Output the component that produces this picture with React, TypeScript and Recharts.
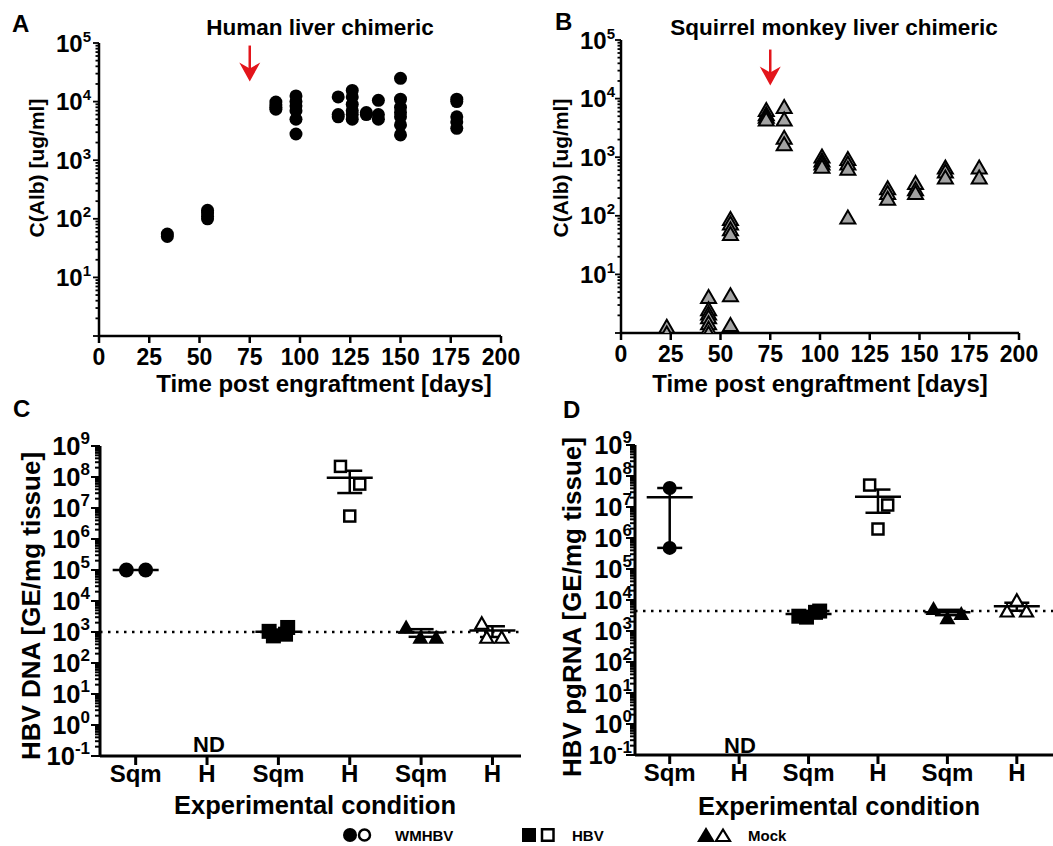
import React from 'react';
import { ScatterChart, Scatter, XAxis, YAxis, ReferenceLine, ErrorBar } from 'recharts';

const FONT = '"Liberation Sans", Arial, Helvetica, sans-serif';
const RED = '#e3151b';

// ---------- Panel A : human liver chimeric ----------
const humanDays = [34, 54, 88, 98, 119, 126, 133, 139, 150, 178];
const humanAlb: number[][] = [
  [55, 50],
  [140, 125, 110, 100],
  [9800, 8800, 8000, 7400],
  [12500, 10000, 8500, 7000, 5000, 2800],
  [12000, 6000, 5500],
  [15500, 12000, 9000, 7000, 6000, 5000],
  [6500, 6000],
  [10500, 6000, 5000],
  [25000, 11000, 8000, 6500, 5500, 4000, 2700],
  [11000, 10000, 5500, 4500, 3500],
];
const humanArrow = [{ x: 75, y: 22000 }];

// ---------- Panel B : squirrel monkey liver chimeric ----------
const monkeyDays = [23, 44, 55, 73, 82, 101, 114, 134, 148, 163, 180];
const monkeyAlb: number[][] = [
  [1.3, 1.0],
  [4.2, 2.6, 2.2, 1.9, 1.5, 1.2, 1.0],
  [90, 75, 60, 50, 4.5, 1.4],
  [6500, 5500, 5000, 4500],
  [7300, 4500, 2200, 1700],
  [1050, 900, 800, 700],
  [950, 800, 650, 95],
  [300, 250, 200],
  [370, 290, 250],
  [680, 580, 460],
  [680, 460],
];
const monkeyArrow = [{ x: 75, y: 16700 }];

const timeTicks = [0, 25, 50, 75, 100, 125, 150, 175, 200];

// ---------- Panels C / D ----------
const conditionLabels = ['Sqm', 'H', 'Sqm', 'H', 'Sqm', 'H'];

// C: HBV DNA [GE/mg tissue]
const dnaWmhbvSqm = [1e5, 1e5];
const dnaHbvSqm = [1050, 750, 1400, 850];
const dnaHbvH = [2.2e8, 5.9e7, 5.5e6];
const dnaMockSqm = [1500, 700, 700];
const dnaMockH = [1950, 690, 690];
const dnaCutoff = 1000;
const dnaWmhbvSqmJitter = [-0.13, 0.14];
const dnaHbvSqmJitter = [-0.13, -0.07, 0.13, 0.1];
const dnaHbvHJitter = [-0.13, 0.14, 0];
const dnaMockSqmJitter = [-0.21, -0.01, 0.21];
const dnaMockHJitter = [-0.15, -0.08, 0.13];

// D: HBV pgRNA [GE/mg tissue]
const rnaWmhbvSqm = [4.1e7, 4.8e5];
const rnaHbvSqm = [3000, 2800, 4000, 4400];
const rnaHbvH = [5.1e7, 1.16e7, 1.95e6];
const rnaMockSqm = [5500, 2800, 3800];
const rnaMockH = [4500, 10000, 4500];
const rnaCutoff = 4400;
const rnaWmhbvSqmJitter = [0, 0];
const rnaHbvSqmJitter = [-0.14, -0.03, 0.1, 0.16];
const rnaHbvHJitter = [-0.12, 0.14, 0];
const rnaMockSqmJitter = [-0.2, 0, 0.2];
const rnaMockHJitter = [-0.14, 0, 0.14];

// ---------- helpers ----------
const buildLogTicks = (minExp: number, maxExp: number) => {
  const t: number[] = [];
  for (let e = minExp; e < maxExp; e++) for (let m = 1; m < 10; m++) t.push(Number((m * Math.pow(10, e)).toPrecision(6)));
  t.push(Math.pow(10, maxExp));
  return t;
};
const albTicks = buildLogTicks(0, 5);
const hbvTicks = buildLogTicks(-1, 9);

const timeData = (days: number[], vals: number[][]) =>
  days.flatMap((d, i) => vals[i].map((v) => ({ x: d, y: v })));
const toPoints = (cat: number, jitter: number[], vals: number[]) =>
  vals.map((v, i) => ({ x: cat + jitter[i], y: v }));
const meanSem = (cat: number, vals: number[]) => {
  const n = vals.length;
  const mean = vals.reduce((a, b) => a + b, 0) / n;
  const sd = Math.sqrt(vals.reduce((a, b) => a + (b - mean) * (b - mean), 0) / (n - 1));
  return { x: cat, y: mean, err: sd / Math.sqrt(n) };
};

type TickOpts = { major: number; minor: number; gap: number; fs: number; sup: number; supDy: number; minLabel: number; sw: number };
const logTick = (o: TickOpts) => (props: any) => {
  const { x, y, payload } = props;
  const v = payload.value as number;
  const lg = Math.log10(v);
  const e = Math.round(lg);
  const isMajor = Math.abs(lg - e) < 1e-6;
  return (
    <g>
      <line x1={x} x2={x - (isMajor ? o.major : o.minor)} y1={y} y2={y} stroke="#000" strokeWidth={o.sw} />
      {isMajor && v >= o.minLabel && (
        <text x={x - o.gap} y={y + o.fs * 0.36} textAnchor="end" fontFamily={FONT} fontWeight={700} fontSize={o.fs} fill="#000">
          10
          <tspan dy={o.supDy} fontSize={o.sup}>
            {e}
          </tspan>
        </text>
      )}
    </g>
  );
};

const xTick = (len: number, dyText: number, fs: number, sw: number, fmt: (v: number) => string) => (props: any) => {
  const { x, y, payload } = props;
  return (
    <g>
      <line x1={x} x2={x} y1={y} y2={y + len} stroke="#000" strokeWidth={sw} />
      <text x={x} y={y + dyText} textAnchor="middle" fontFamily={FONT} fontWeight={700} fontSize={fs} fill="#000">
        {fmt(payload.value)}
      </text>
    </g>
  );
};

// ---------- marker shapes ----------
const dot = (r: number) => (p: any) => <circle cx={p.cx} cy={p.cy} r={r} fill="#000" />;
const square = (s: number, open: boolean) => (p: any) =>
  open ? (
    <rect x={p.cx - s / 2} y={p.cy - s / 2} width={s} height={s} fill="#fff" stroke="#000" strokeWidth={2.5} />
  ) : (
    <rect x={p.cx - s / 2} y={p.cy - s / 2} width={s} height={s} fill="#000" />
  );
const tri = (w: number, h: number, fill: string, sw: number) => (p: any) => (
  <polygon
    points={`${p.cx},${p.cy - h / 2} ${p.cx + w / 2},${p.cy + h / 2} ${p.cx - w / 2},${p.cy + h / 2}`}
    fill={fill}
    stroke="#000"
    strokeWidth={sw}
    strokeLinejoin="miter"
  />
);
const meanMark = (p: any) => <line x1={p.cx - 23} x2={p.cx + 23} y1={p.cy} y2={p.cy} stroke="#000" strokeWidth={2.5} />;
const arrowDown = (p: any) => {
  const { cx, cy } = p;
  return (
    <g>
      <line x1={cx} x2={cx} y1={cy - 36} y2={cy - 12} stroke={RED} strokeWidth={2.5} />
      <polygon points={`${cx - 10.5},${cy - 19} ${cx},${cy - 13} ${cx + 10.5},${cy - 19} ${cx},${cy}`} fill={RED} />
    </g>
  );
};

const axisStyle = { stroke: '#000', strokeWidth: 2.5 };

// ---------- Panels ----------
function TimePanel(props: {
  width: number;
  margin: any;
  yWidth: number;
  data: { x: number; y: number }[];
  arrow: { x: number; y: number }[];
  shape: any;
  yTickGap: number;
}) {
  return (
    <ScatterChart width={props.width} height={400} margin={props.margin}>
      <XAxis
        type="number"
        dataKey="x"
        domain={[0, 200]}
        ticks={timeTicks}
        interval={0}
        tickSize={0}
        tickMargin={0}
        tickLine={false}
        axisLine={axisStyle}
        height={30}
        tick={xTick(7, 29, 23, 2.5, (v) => String(v))}
      />
      <YAxis
        type="number"
        dataKey="y"
        scale="log"
        domain={[1, 1e5]}
        allowDataOverflow
        ticks={albTicks}
        interval={0}
        tickSize={0}
        tickMargin={0}
        tickLine={false}
        axisLine={axisStyle}
        width={props.yWidth}
        tick={logTick({ major: 6, minor: 3.5, gap: props.yTickGap, fs: 24, sup: 15, supDy: -10, minLabel: 10, sw: 1.8 })}
      />
      <Scatter data={props.data} shape={props.shape} isAnimationActive={false} />
      <Scatter data={props.arrow} shape={arrowDown} isAnimationActive={false} />
    </ScatterChart>
  );
}

function ViralPanel(props: {
  width: number;
  margin: any;
  yWidth: number;
  xMax: number;
  tickGap: number;
  cutoff: number;
  groups: { cat: number; jitter: number[]; vals: number[]; shape: any }[];
}) {
  const summary = props.groups.map((g) => meanSem(g.cat, g.vals));
  return (
    <ScatterChart width={props.width} height={400} margin={props.margin}>
      <XAxis
        type="number"
        dataKey="x"
        domain={[0.5, props.xMax]}
        ticks={[1, 2, 3, 4, 5, 6]}
        interval={0}
        tickSize={0}
        tickMargin={0}
        tickLine={false}
        axisLine={{ stroke: '#000', strokeWidth: 3 }}
        height={30}
        tick={xTick(9, 26, 24, 3, (v) => conditionLabels[v - 1])}
      />
      <YAxis
        type="number"
        dataKey="y"
        scale="log"
        domain={[0.1, 1e9]}
        allowDataOverflow
        ticks={hbvTicks}
        interval={0}
        tickSize={0}
        tickMargin={0}
        tickLine={false}
        axisLine={{ stroke: '#000', strokeWidth: 3 }}
        width={props.yWidth}
        tick={logTick({ major: 9, minor: 5, gap: props.tickGap, fs: 25.5, sup: 17, supDy: -11, minLabel: 0.05, sw: 2 })}
      />
      <ReferenceLine y={props.cutoff} stroke="#000" strokeWidth={2.5} strokeDasharray="2.5 5.5" />
      {props.groups.map((g, i) => (
        <Scatter key={i} data={toPoints(g.cat, g.jitter, g.vals)} shape={g.shape} isAnimationActive={false} />
      ))}
      <Scatter data={summary} shape={meanMark} isAnimationActive={false}>
        <ErrorBar dataKey="err" direction="y" width={12.5} stroke="#000" strokeWidth={2.5} />
      </Scatter>
    </ScatterChart>
  );
}

const txt = (x: number, y: number, size: number, s: string, anchor: 'start' | 'middle' | 'end' = 'start') => (
  <text x={x} y={y} fontFamily={FONT} fontWeight={700} fontSize={size} textAnchor={anchor} fill="#000">
    {s}
  </text>
);
const vtxt = (cx: number, cy: number, size: number, s: string) => (
  <text
    x={cx}
    y={cy}
    transform={`rotate(-90, ${cx}, ${cy})`}
    fontFamily={FONT}
    fontWeight={700}
    fontSize={size}
    textAnchor="middle"
    dominantBaseline="central"
    fill="#000"
  >
    {s}
  </text>
);

export default function App() {
  const humanData = timeData(humanDays, humanAlb);
  const monkeyData = timeData(monkeyDays, monkeyAlb);

  const groupsC = [
    { cat: 1, jitter: dnaWmhbvSqmJitter, vals: dnaWmhbvSqm, shape: dot(7.5) },
    { cat: 3, jitter: dnaHbvSqmJitter, vals: dnaHbvSqm, shape: square(15, false) },
    { cat: 4, jitter: dnaHbvHJitter, vals: dnaHbvH, shape: square(11, true) },
    { cat: 5, jitter: dnaMockSqmJitter, vals: dnaMockSqm, shape: tri(16, 14, '#000', 0) },
    { cat: 6, jitter: dnaMockHJitter, vals: dnaMockH, shape: tri(13, 11.5, '#fff', 2.2) },
  ];
  const groupsD = [
    { cat: 1, jitter: rnaWmhbvSqmJitter, vals: rnaWmhbvSqm, shape: dot(7) },
    { cat: 3, jitter: rnaHbvSqmJitter, vals: rnaHbvSqm, shape: square(15, false) },
    { cat: 4, jitter: rnaHbvHJitter, vals: rnaHbvH, shape: square(11, true) },
    { cat: 5, jitter: rnaMockSqmJitter, vals: rnaMockSqm, shape: tri(16, 14, '#000', 0) },
    { cat: 6, jitter: rnaMockHJitter, vals: rnaMockH, shape: tri(13, 11.5, '#fff', 2.2) },
  ];

  return (
    <div style={{ position: 'absolute', left: 0, top: 0, width: 1053, height: 846, overflow: 'hidden', background: '#fff' }}>
      <div style={{ position: 'absolute', left: 0, top: 0 }}>
        <TimePanel
          width={520}
          margin={{ top: 43, right: 19, bottom: 34, left: 0 }}
          yWidth={99}
          data={humanData}
          arrow={humanArrow}
          shape={dot(6.5)}
          yTickGap={8}
        />
      </div>
      <div style={{ position: 'absolute', left: 520, top: 0 }}>
        <TimePanel
          width={533}
          margin={{ top: 40, right: 34, bottom: 37, left: 0 }}
          yWidth={101}
          data={monkeyData}
          arrow={monkeyArrow}
          shape={tri(15, 13, '#a3a3a3', 2)}
          yTickGap={6}
        />
      </div>
      <div style={{ position: 'absolute', left: 0, top: 420 }}>
        <ViralPanel
          width={530}
          margin={{ top: 26, right: 9, bottom: 34, left: 0 }}
          yWidth={100}
          xMax={6.4}
          tickGap={10}
          cutoff={dnaCutoff}
          groups={groupsC}
        />
      </div>
      <div style={{ position: 'absolute', left: 520, top: 420 }}>
        <ViralPanel
          width={540}
          margin={{ top: 25, right: 5, bottom: 35, left: 0 }}
          yWidth={115}
          xMax={6.55}
          tickGap={3}
          cutoff={rnaCutoff}
          groups={groupsD}
        />
      </div>

      <svg width={1053} height={846} style={{ position: 'absolute', left: 0, top: 0, pointerEvents: 'none' }}>
        {txt(12, 32, 24, 'A')}
        {txt(320, 35, 22.5, 'Human liver chimeric', 'middle')}
        {txt(555, 30, 24, 'B')}
        {txt(834, 35, 22.5, 'Squirrel monkey liver chimeric', 'middle')}
        {txt(324, 392, 24, 'Time post engraftment [days]', 'middle')}
        {txt(820, 392, 24, 'Time post engraftment [days]', 'middle')}
        {vtxt(36, 168, 21, 'C(Alb) [ug/ml]')}
        {vtxt(560, 168, 21, 'C(Alb) [ug/ml]')}

        {txt(13, 417, 24, 'C')}
        {txt(563, 418, 24, 'D')}
        {vtxt(31, 606, 26, 'HBV DNA [GE/mg tissue]')}
        {vtxt(572, 607, 26, 'HBV pgRNA [GE/mg tissue]')}
        {txt(315, 814, 25.5, 'Experimental condition', 'middle')}
        {txt(839, 815, 25.5, 'Experimental condition', 'middle')}
        {txt(209, 752, 22, 'ND', 'middle')}
        {txt(740, 753, 22, 'ND', 'middle')}

        <circle cx={350} cy={835} r={7} fill="#000" />
        <circle cx={364.5} cy={835} r={5.5} fill="#fff" stroke="#000" strokeWidth={2.5} />
        {txt(395, 841, 15, 'WMHBV')}
        <rect x={522} y={828} width={14} height={14} fill="#000" />
        <rect x={542} y={829.25} width={11.5} height={11.5} fill="#fff" stroke="#000" strokeWidth={2.5} />
        {txt(572, 841, 15, 'HBV')}
        <polygon points="706,827 715,842 697,842" fill="#000" />
        <polygon points="723,829.5 730,841 716,841" fill="#fff" stroke="#000" strokeWidth={2.2} />
        {txt(748, 841, 15, 'Mock')}
      </svg>
    </div>
  );
}
